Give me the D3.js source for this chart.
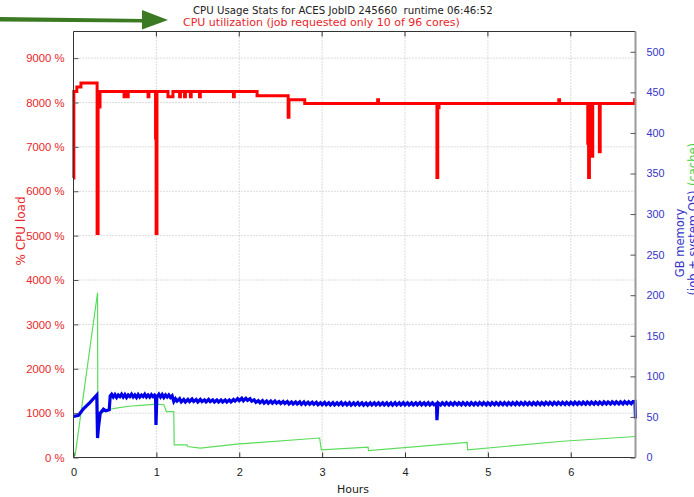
<!DOCTYPE html>
<html>
<head>
<meta charset="utf-8">
<script src="https://cdn.jsdelivr.net/npm/d3@7"></script>
<style>
  body { margin: 0; background: #fff; }
  svg { display: block; font-family: "DejaVu Sans", sans-serif; }
</style>
</head>
<body>
<div class="chart-container"></div>
<script>
(function() {
  ////////////////////////////////////////////////////////////
  //// Data //////////////////////////////////////////////////
  ////////////////////////////////////////////////////////////
  const titleText = "CPU Usage Stats for ACES JobID 245660  runtime 06:46:52";
  const subtitleText = "CPU utilization (job requested only 10 of 96 cores)";
  const runtimeHours = 6.781;
  const cpuMax = 9600;
  const memMax = 525;
  const hourTicks = [0, 1, 2, 3, 4, 5, 6];
  const cpuTicks = [0, 1000, 2000, 3000, 4000, 5000, 6000, 7000, 8000, 9000];
  const memTicks = [0, 50, 100, 150, 200, 250, 300, 350, 400, 450, 500];

  // [hours, % CPU] -- value holds until the next sample
  const cpuSeries = [
    [0, 6300], [0.004, 8250], [0.04, 8350], [0.09, 8440], [0.285, 5050],
    [0.297, 7900], [0.32, 8250], [0.61, 8130], [0.62, 8250], [0.65, 8130],
    [0.66, 8250], [0.9, 8130], [0.91, 8250], [0.99, 7200], [0.997, 5050],
    [1.007, 8250], [1.14, 8130], [1.2, 8250], [1.28, 8130], [1.29, 8250],
    [1.34, 8130], [1.35, 8250], [1.41, 8130], [1.42, 8250], [1.52, 8130],
    [1.53, 8250], [1.93, 8130], [1.94, 8250], [2.215, 8150], [2.59, 7670],
    [2.6, 8060], [2.79, 7975], [3.67, 8060], [3.68, 7975], [4.385, 6310],
    [4.395, 7880], [4.41, 7975], [5.855, 8060], [5.865, 7975], [6.205, 7080],
    [6.215, 6310], [6.225, 7975], [6.255, 6790], [6.265, 7975], [6.345, 6890],
    [6.355, 7975], [6.77, 8060], [6.781, 8060]
  ];

  // [hours, GB] job + system OS memory
  const memSeries = [
    [0, 50.5], [0.06, 52], [0.12, 60], [0.2, 68], [0.281, 77], [0.29, 24],
    [0.3, 36], [0.322, 54.6], [0.362, 59.5], [0.39, 57.5], [0.431, 58.7],
    [0.443, 76], [0.46, 78], [0.48, 74.5], [0.5, 77.5], [0.52, 74], [0.54, 77],
    [0.56, 75], [0.58, 78], [0.6, 74.5], [0.62, 77.5], [0.64, 74], [0.66, 77],
    [0.68, 75], [0.7, 78], [0.72, 74.5], [0.74, 77], [0.76, 74], [0.78, 77.5],
    [0.8, 74.5], [0.82, 77], [0.84, 75], [0.86, 78], [0.88, 74.5], [0.9, 77],
    [0.92, 74.5], [0.94, 77.5], [0.96, 75], [0.98, 77], [0.99, 76],
    [0.995, 40], [1.005, 73], [1.01, 75], [1.03, 78], [1.05, 74.5], [1.07, 77.5],
    [1.09, 74], [1.11, 77], [1.13, 74.5], [1.15, 77], [1.17, 74], [1.19, 76],
    [1.21, 69], [1.23, 72.5], [1.25, 69.5], [1.28, 72.5], [1.3, 68.5],
    [1.33, 71.5], [1.35, 68.5], [1.38, 71.5], [1.4, 69], [1.43, 72], [1.45, 69],
    [1.48, 71.5], [1.5, 68.5], [1.53, 71.5], [1.55, 69], [1.58, 71], [1.6, 68.5],
    [1.63, 71.5], [1.65, 69], [1.68, 71], [1.7, 68.5], [1.73, 71], [1.75, 68.5],
    [1.78, 71], [1.8, 68.5], [1.83, 71], [1.85, 68.5], [1.88, 71], [1.9, 68.5],
    [1.93, 71.5], [1.95, 69.5], [1.98, 72.5], [2.0, 70], [2.03, 73], [2.05, 70],
    [2.08, 73], [2.1, 70.5], [2.13, 72.5], [2.15, 69.5], [2.18, 71], [2.2, 68],
    [2.23, 70], [2.25, 67.5], [2.28, 70], [2.3, 67], [2.33, 69.5], [2.35, 67],
    [2.38, 69.5], [2.4, 67], [2.43, 69.5], [2.45, 67], [2.48, 69], [2.5, 66.5],
    [2.53, 69], [2.55, 66.5], [2.58, 69], [2.6, 66], [2.63, 68.5], [2.65, 66],
    [2.68, 68.5], [2.7, 66], [2.73, 68.5], [2.75, 65.5], [2.78, 68.5], [2.8, 65.5],
    [2.83, 68], [2.85, 65.5], [2.88, 68], [2.9, 65.5], [2.93, 68], [2.95, 65],
    [2.98, 67.5], [3.0, 65], [3.03, 67.8], [3.05, 65], [3.08, 67.5], [3.1, 64.8],
    [3.13, 67.6], [3.15, 64.8], [3.18, 67.5], [3.2, 65], [3.23, 67.8], [3.25, 64.8],
    [3.28, 67.4], [3.3, 64.7], [3.33, 67.5], [3.35, 64.6], [3.38, 67.4], [3.4, 64.8],
    [3.43, 67.6], [3.45, 64.7], [3.48, 67.3], [3.5, 64.6], [3.53, 67.2], [3.55, 64.5],
    [3.58, 67.3], [3.6, 64.7], [3.63, 67.4], [3.65, 64.8], [3.68, 67.5], [3.7, 64.8],
    [3.73, 67.4], [3.75, 64.7], [3.78, 67.3], [3.8, 64.6], [3.83, 67.4], [3.85, 64.6],
    [3.88, 67.5], [3.9, 64.8], [3.93, 67.4], [3.95, 64.7], [3.98, 67.5], [4.0, 64.8],
    [4.03, 67.4], [4.05, 64.7], [4.08, 67.3], [4.1, 64.8], [4.13, 67.5], [4.15, 64.8],
    [4.18, 67.6], [4.2, 64.9], [4.23, 67.4], [4.25, 64.7], [4.28, 67.5], [4.3, 64.8],
    [4.33, 67.4], [4.35, 64.9], [4.38, 66.5], [4.385, 46], [4.395, 64], [4.4, 67.3],
    [4.43, 64.8], [4.45, 67.4], [4.48, 64.9], [4.5, 67.6], [4.53, 64.8], [4.55, 67.5],
    [4.58, 64.9], [4.6, 67.6], [4.63, 65], [4.65, 67.5], [4.68, 64.9], [4.7, 67.6],
    [4.73, 64.8], [4.75, 67.5], [4.78, 64.9], [4.8, 67.6], [4.83, 64.8], [4.85, 67.5],
    [4.88, 64.9], [4.9, 67.6], [4.93, 65], [4.95, 67.6], [4.98, 64.9], [5.0, 67.5],
    [5.03, 64.9], [5.05, 67.7], [5.08, 65], [5.1, 67.6], [5.13, 64.9], [5.15, 67.7],
    [5.18, 65], [5.2, 67.6], [5.23, 64.9], [5.25, 67.7], [5.28, 65], [5.3, 67.6],
    [5.33, 65], [5.35, 67.8], [5.38, 65.1], [5.4, 67.7], [5.43, 65], [5.45, 67.8],
    [5.48, 65.1], [5.5, 67.7], [5.53, 65.1], [5.55, 67.8], [5.58, 65.2], [5.6, 67.9],
    [5.63, 65.1], [5.65, 67.8], [5.68, 65.2], [5.7, 67.9], [5.73, 65.3], [5.75, 68],
    [5.78, 65.2], [5.8, 67.9], [5.83, 65.3], [5.85, 68], [5.88, 65.4], [5.9, 68],
    [5.93, 65.3], [5.95, 68.1], [5.98, 65.4], [6.0, 68], [6.03, 65.5], [6.05, 68.2],
    [6.08, 65.5], [6.1, 68.1], [6.13, 65.6], [6.15, 68.2], [6.18, 65.6], [6.2, 68.3],
    [6.23, 65.7], [6.25, 68.3], [6.28, 65.7], [6.3, 68.4], [6.33, 65.8], [6.35, 68.4],
    [6.38, 65.8], [6.4, 68.5], [6.43, 65.9], [6.45, 68.5], [6.48, 66], [6.5, 68.6],
    [6.53, 66], [6.55, 68.6], [6.58, 66.1], [6.6, 68.7], [6.63, 66.1], [6.65, 68.8],
    [6.68, 66.2], [6.7, 68.8], [6.73, 66.3], [6.75, 68.9], [6.775, 69], [6.781, 48]
  ];

  // [hours, GB] page cache
  const cacheSeries = [
    [0, 3], [0.02, 3], [0.29, 203], [0.293, 51], [0.32, 53], [0.36, 56],
    [0.44, 59.5], [0.55, 61.5], [0.7, 63.5], [0.81, 64.2], [1.0, 65.7],
    [1.09, 65], [1.12, 56.6], [1.21, 56.6], [1.215, 15.6], [1.37, 15.6],
    [1.375, 13.5], [1.53, 11.6], [2.0, 16.9], [2.1, 17.5], [2.97, 24],
    [2.99, 9.5], [3.555, 12.8], [3.56, 8.6], [4.75, 18.5], [4.755, 9.5],
    [5.9, 20], [6.781, 25.9]
  ];

  ////////////////////////////////////////////////////////////
  //// Chart /////////////////////////////////////////////////
  ////////////////////////////////////////////////////////////
  const chartWidth = 694;
  const chartHeight = 497;
  const margin = { top: 31.5, right: 58.5, bottom: 39.5, left: 73.5 };
  const width = chartWidth - margin.left - margin.right;
  const height = chartHeight - margin.top - margin.bottom;

  const red = "#f00";
  const labelRed = "#e8262a";
  const blue = "#0000e8";
  const labelBlue = "#3434c8";
  const green = "#5cdc5c";

  const xScale = d3.scaleLinear().domain([0, runtimeHours]).range([0, width]);
  const yCpu = d3.scaleLinear().domain([0, cpuMax]).range([height, 0]);
  const yMem = d3.scaleLinear().domain([0, memMax]).range([height, 0]);

  const svg = d3
    .select(".chart-container")
    .append("svg")
    .attr("width", chartWidth)
    .attr("height", chartHeight)
    .attr("viewBox", [0, 0, chartWidth, chartHeight]);

  // Arrow pointing at the title
  const arrowColor = "#3b7a22";
  svg
    .append("path")
    .attr("d", "M0,17 L145,19 L145,22.5 L0,21.5 Z")
    .attr("fill", arrowColor);
  svg
    .append("path")
    .attr("d", "M142,10 L168,20 L142,29.5 Z")
    .attr("fill", arrowColor);

  svg
    .append("text")
    .attr("x", 193)
    .attr("y", 14)
    .attr("font-size", 10.2)
    .attr("fill", "#222")
    .style("white-space", "pre")
    .text(titleText);
  svg
    .append("text")
    .attr("x", 183)
    .attr("y", 25.5)
    .attr("font-size", 11)
    .attr("fill", labelRed)
    .text(subtitleText);

  const g = svg
    .append("g")
    .attr("transform", `translate(${margin.left},${margin.top})`);

  // Grid
  const gGrid = g
    .append("g")
    .attr("stroke", "#b8b8b8")
    .attr("stroke-width", 1)
    .attr("stroke-dasharray", "1,2");
  gGrid
    .selectAll(".vgrid")
    .data(hourTicks.filter(d => d > 0))
    .join("line")
    .attr("x1", d => xScale(d))
    .attr("x2", d => xScale(d))
    .attr("y1", 0)
    .attr("y2", height);
  gGrid
    .selectAll(".hgrid")
    .data(cpuTicks.filter(d => d > 0))
    .join("line")
    .attr("x1", 0)
    .attr("x2", width)
    .attr("y1", d => yCpu(d))
    .attr("y2", d => yCpu(d));

  // Series
  const gSeries = g.append("g").attr("fill", "none");

  gSeries
    .append("path")
    .datum(cacheSeries)
    .attr("stroke", green)
    .attr("stroke-width", 1.2)
    .attr(
      "d",
      d3
        .line()
        .x(d => xScale(d[0]))
        .y(d => yMem(d[1]))
    );

  gSeries
    .append("path")
    .datum(memSeries)
    .attr("stroke", blue)
    .attr("stroke-width", 3.2)
    .attr(
      "d",
      d3
        .line()
        .x(d => xScale(d[0]))
        .y(d => yMem(d[1]))
    );

  gSeries
    .append("path")
    .datum(cpuSeries)
    .attr("stroke", red)
    .attr("stroke-width", 3)
    .attr(
      "d",
      d3
        .line()
        .curve(d3.curveStepAfter)
        .x(d => xScale(d[0]))
        .y(d => yCpu(d[1]))
    );

  // Frame
  g.append("path")
    .attr("d", `M${width},0 H0 V${height} H${width}`)
    .attr("fill", "none")
    .attr("stroke", "#333")
    .attr("stroke-width", 1);
  g.append("line")
    .attr("x1", width)
    .attr("x2", width)
    .attr("y1", 0)
    .attr("y2", height)
    .attr("stroke", "#9a9a9a")
    .attr("stroke-width", 2);

  // Bottom axis (ticks inward, mirrored on top)
  const xAxis = function(gx) {
    gx.call(
      d3
        .axisBottom(xScale)
        .tickValues(hourTicks)
        .tickSize(-5)
        .tickPadding(11)
        .tickFormat(d3.format("d"))
    )
      .call(gx => gx.select(".domain").remove())
      .call(gx => gx.selectAll(".tick line").attr("stroke", "#333"))
      .call(gx =>
        gx
          .selectAll(".tick text")
          .attr("font-size", 11)
          .attr("fill", "#222")
      );
  };
  g.append("g")
    .attr("transform", `translate(0,${height})`)
    .attr("font-family", null)
    .call(xAxis);
  g.append("g")
    .selectAll("line")
    .data(hourTicks.filter(d => d > 0))
    .join("line")
    .attr("x1", d => xScale(d))
    .attr("x2", d => xScale(d))
    .attr("y1", 0)
    .attr("y2", 5)
    .attr("stroke", "#333");

  // Left axis (% CPU)
  const yLeftAxis = function(gy) {
    gy.call(
      d3
        .axisLeft(yCpu)
        .tickValues(cpuTicks)
        .tickSize(-5)
        .tickPadding(9)
        .tickFormat(d => `${d} %`)
    )
      .call(gy => gy.select(".domain").remove())
      .call(gy => gy.selectAll(".tick line").attr("stroke", "#555"))
      .call(gy =>
        gy
          .selectAll(".tick text")
          .attr("font-size", 11.3)
          .attr("fill", labelRed)
      );
  };
  g.append("g")
    .attr("font-family", null)
    .call(yLeftAxis);

  // Right axis (GB)
  const yRightAxis = function(gy) {
    gy.call(
      d3
        .axisRight(yMem)
        .tickValues(memTicks)
        .tickSize(-5)
        .tickPadding(11)
    )
      .call(gy => gy.select(".domain").remove())
      .call(gy => gy.selectAll(".tick line").attr("stroke", "#555"))
      .call(gy =>
        gy
          .selectAll(".tick text")
          .attr("font-size", 10.8)
          .attr("fill", labelBlue)
      );
  };
  g.append("g")
    .attr("transform", `translate(${width},0)`)
    .attr("font-family", null)
    .call(yRightAxis);

  // Axis titles
  svg
    .append("text")
    .attr("x", chartWidth / 2 + 6)
    .attr("y", 493)
    .attr("text-anchor", "middle")
    .attr("font-size", 11)
    .attr("fill", "#222")
    .text("Hours");

  svg
    .append("text")
    .attr("transform", "translate(25,231) rotate(-90)")
    .attr("text-anchor", "middle")
    .attr("font-size", 12)
    .attr("fill", labelRed)
    .text("% CPU load");

  const memLabel = svg
    .append("text")
    .attr("transform", "translate(684,243) rotate(-90)")
    .attr("text-anchor", "middle")
    .attr("font-size", 11.5)
    .attr("fill", labelBlue);
  memLabel.append("tspan").attr("x", 0).attr("dy", 0).text("GB memory");
  memLabel
    .append("tspan")
    .attr("x", 0)
    .attr("dy", "1.1em")
    .text("(job + system OS)");

  svg
    .append("text")
    .attr("transform", "translate(696.6,186) rotate(-90)")
    .attr("font-size", 11.5)
    .attr("fill", "#3fd03f")
    .text("(cache)");
})();
</script>
</body>
</html>
